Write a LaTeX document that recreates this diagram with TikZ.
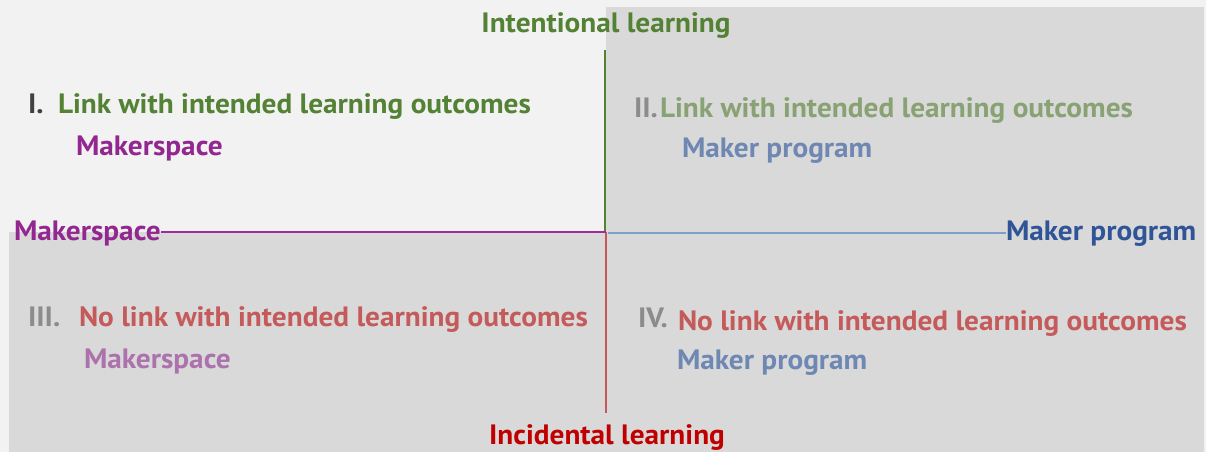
\documentclass[tikz,border=0pt]{standalone}
\usepackage{fontspec}
\setmainfont{PT Sans}[FakeStretch=1.045]
\definecolor{bgc}{HTML}{F2F2F2}
\definecolor{quadc}{HTML}{D9D9D9}
\definecolor{gdark}{HTML}{548235}
\definecolor{glight}{HTML}{88A274}
\definecolor{purp}{HTML}{92278F}
\definecolor{purpl}{HTML}{AC72AC}
\definecolor{bluel}{HTML}{6F88B3}
\definecolor{blued}{HTML}{2F5597}
\definecolor{redt}{HTML}{C55A5A}
\definecolor{redd}{HTML}{C00000}
\definecolor{numd}{HTML}{404040}
\definecolor{numl}{HTML}{8C8C8C}
\definecolor{lpurp}{HTML}{9E2A9B}
\definecolor{lblue}{HTML}{7EA0C6}
\definecolor{lred}{HTML}{C9575A}
\begin{document}
\begin{tikzpicture}[x=1pt,y=-1pt,
  lab/.style={inner sep=0pt,outer sep=0pt,font=\fontsize{28}{31}\selectfont\bfseries},
  axisline/.style={line width=2.8pt}]
\useasboundingbox (0,0) rectangle (1206,452);
\fill[bgc] (0,0) rectangle (1206,452);
\fill[quadc] (606,7) rectangle (1204,232);
\fill[quadc] (9,232) rectangle (1204,452);
% axis labels
\node[lab,text=gdark,anchor=base] (top) at (606,33) {Intentional learning};
\node[lab,text=redd,anchor=base] (bot) at (607,444) {Incidental learning};
\node[lab,text=purp,anchor=base west] (left) at (14,240) {Makerspace};
\node[lab,text=blued,anchor=base west] (right) at (1006,240) {Maker program};
% axis points
\coordinate (c) at (606,232);
\coordinate (vt) at (605,50);
\coordinate (vb) at (606,413);
\draw[axisline,gdark] (vt) -- (605,232);
\draw[axisline,lred] (c) -- (vb);
\draw[axisline,lpurp] (left.east |- c) -- (c);
\draw[axisline,lblue] (608,233) -- (right.west |- 0,233);
% quadrant I
\node[lab,text=numd,anchor=base west] (n1) at (28,113) {I.};
\node[lab,text=gdark,anchor=base west] (t1) at (58,113) {Link with intended learning outcomes};
\node[lab,text=purp,anchor=base west] (s1) at (76,155) {Makerspace};
% quadrant II
\node[lab,text=numl,anchor=base west] (n2) at (634,117) {II.};
\node[lab,text=glight,anchor=base west] (t2) at (660,117) {Link with intended learning outcomes};
\node[lab,text=bluel,anchor=base west] (s2) at (682,157) {Maker program};
% quadrant III
\node[lab,text=numl,anchor=base west] (n3) at (28,326) {III.};
\node[lab,text=redt,anchor=base west] (t3) at (79,326) {No link with intended learning outcomes};
\node[lab,text=purpl,anchor=base west] (s3) at (84,368) {Makerspace};
% quadrant IV
\node[lab,text=numl,anchor=base west] (n4) at (638,327) {IV.};
\node[lab,text=redt,anchor=base west] (t4) at (678,330) {No link with intended learning outcomes};
\node[lab,text=bluel,anchor=base west] (s4) at (677,369) {Maker program};
\end{tikzpicture}
\end{document}
